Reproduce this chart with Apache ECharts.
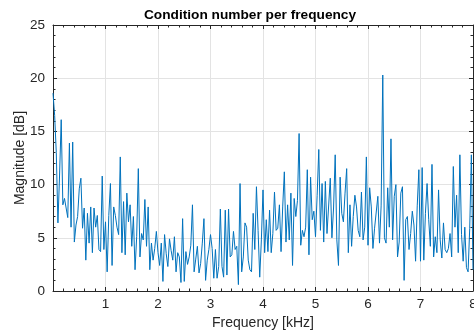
<!DOCTYPE html>
<html>
<head>
<meta charset="utf-8">
<script src="https://cdn.jsdelivr.net/npm/echarts@6/dist/echarts.min.js"></script>
<style>
html,body{margin:0;padding:0;background:#fff;}
#chart{width:474px;height:330px;}
</style>
</head>
<body>
<div id="chart"></div>
<script>
// Frequency axis: samples every 1/32 kHz from 0 to 8 kHz
const freqStepKHz = 1 / 32;
const xTicks = [0, 1, 2, 3, 4, 5, 6, 7, 8];
const yTicks = [0, 5, 10, 15, 20, 25];
// Condition number per frequency bin, in dB
const magnitudeDb = [
  18.6, 16.5, 13.0, 6.4, 10.9, 16.1, 8.1, 8.7, 8.8, 6.9,
  13.9, 6.0, 14.0, 4.6, 6.2, 7.0, 9.6, 10.6, 5.9, 7.8,
  2.9, 7.3, 4.5, 7.9, 3.6, 7.8, 6.0, 7.1, 3.9, 3.7,
  10.8, 3.9, 6.5, 1.8, 7.1, 10.1, 2.4, 7.9, 7.1, 6.0,
  5.3, 12.6, 3.6, 8.4, 3.4, 9.2, 6.5, 8.1, 4.2, 7.0,
  2.0, 5.1, 11.5, 3.2, 5.4, 4.8, 8.6, 4.2, 7.9, 2.0,
  4.5, 2.9, 4.0, 5.6, 3.6, 2.4, 4.5, 0.9, 5.3, 3.5,
  2.3, 4.9, 3.8, 2.9, 5.1, 1.8, 3.6, 3.2, 0.8, 6.8,
  0.9, 3.7, 2.5, 3.2, 4.3, 8.1, 1.8, 3.0, 4.2, 1.7,
  2.6, 4.5, 6.8, 1.0, 2.9, 3.9, 5.3, 4.0, 1.2, 3.9,
  1.2, 2.3, 7.7, 2.3, 1.3, 7.6, 1.5, 7.7, 3.2, 3.4,
  5.6, 3.9, 4.2, 0.6, 10.1, 1.8, 3.2, 6.4, 6.0, 2.9,
  2.0, 1.8, 7.3, 3.9, 9.8, 5.7, 1.3, 4.8, 9.5, 3.6,
  6.7, 3.7, 7.6, 3.6, 5.4, 9.3, 5.7, 5.9, 8.1, 3.7,
  7.9, 11.2, 4.6, 8.1, 4.8, 9.2, 2.4, 8.7, 7.0, 8.5,
  14.8, 4.3, 5.7, 5.1, 6.0, 11.4, 3.4, 10.7, 6.7, 7.5,
  5.1, 9.0, 13.3, 5.7, 10.1, 4.6, 10.3, 5.4, 5.4, 10.6,
  5.0, 7.8, 12.8, 4.8, 2.4, 10.7, 7.3, 6.5, 9.2, 11.5,
  3.6, 8.1, 4.2, 7.0, 9.0, 7.9, 5.7, 5.1, 9.3, 4.8,
  6.0, 12.6, 4.3, 9.7, 7.9, 4.0, 5.9, 6.0, 8.9, 4.5,
  8.0, 20.3, 5.0, 4.5, 9.7, 6.0, 14.3, 4.8, 8.9, 10.0,
  3.2, 4.6, 9.2, 9.8, 1.0, 6.7, 7.0, 3.9, 5.4, 7.5,
  6.2, 2.8, 8.0, 11.4, 2.8, 11.6, 2.9, 7.3, 10.1, 6.7,
  4.2, 11.9, 3.2, 5.1, 3.6, 9.5, 4.8, 3.1, 6.4, 3.9,
  3.6, 4.0, 5.4, 3.2, 11.7, 6.0, 9.0, 3.6, 12.8, 5.3,
  2.8, 6.0, 2.2, 1.8, 5.9, 12.8, 2.0
];

const seriesData = magnitudeDb.map((v, i) => [i * freqStepKHz, v]);

const AXIS = '#262626';
const GRID = '#e3e3e3';
const FONT = 'Liberation Sans, Arial, sans-serif';

function axisCommon(extra) {
  return Object.assign({
    axisLine: { show: true, onZero: false, lineStyle: { color: AXIS, width: 1 } },
    axisTick: { show: true, inside: true, length: 4, lineStyle: { color: AXIS, width: 1 } },
    minorTick: { show: true, splitNumber: 5, length: 2.5, lineStyle: { color: AXIS, width: 1 } },
    splitLine: { show: false },
    minorSplitLine: { show: false }
  }, extra);
}

const chart = echarts.init(document.getElementById('chart'), null, { renderer: 'canvas' });
chart.setOption({
  animation: false,
  backgroundColor: '#ffffff',
  title: {
    text: 'Condition number per frequency',
    left: 245, top: 3, textAlign: 'center',
    textStyle: { fontFamily: FONT, fontSize: 13.7, fontWeight: 'bold', color: '#000' }
  },
  grid: { left: 53, right: 1, top: 25, bottom: 39, containLabel: false, outerBoundsMode: 'none' },
  xAxis: [
    axisCommon({
      type: 'value', position: 'bottom', min: xTicks[0], max: xTicks[xTicks.length - 1], interval: 1,
      splitLine: { show: true, lineStyle: { color: GRID, width: 1 } },
      axisLabel: {
        show: true, margin: 6, color: AXIS, fontFamily: FONT, fontSize: 13.5,
        formatter: v => (v === 0 ? '' : String(v))
      },
      name: 'Frequency [kHz]', nameLocation: 'middle', nameGap: 24,
      nameTextStyle: { color: AXIS, fontFamily: FONT, fontSize: 14 }
    }),
    axisCommon({
      type: 'value', position: 'top', min: xTicks[0], max: xTicks[xTicks.length - 1], interval: 1,
      axisLabel: { show: false }
    })
  ],
  yAxis: [
    axisCommon({
      type: 'value', position: 'left', min: yTicks[0], max: yTicks[yTicks.length - 1], interval: 5,
      splitLine: { show: true, lineStyle: { color: GRID, width: 1 } },
      axisLabel: { show: true, margin: 8, color: AXIS, fontFamily: FONT, fontSize: 13.5 },
      name: 'Magnitude [dB]', nameLocation: 'middle', nameGap: 26, nameRotate: 90,
      nameMoveOverlap: false,
      nameTextStyle: { color: AXIS, fontFamily: FONT, fontSize: 14 }
    }),
    axisCommon({
      type: 'value', position: 'right', min: yTicks[0], max: yTicks[yTicks.length - 1], interval: 5,
      axisLabel: { show: false }
    })
  ],
  series: [{
    type: 'line',
    xAxisIndex: 0, yAxisIndex: 0,
    data: seriesData,
    showSymbol: false,
    symbol: 'none',
    lineStyle: { color: '#0072BD', width: 1 },
    z: 3
  }]
});
</script>
</body>
</html>
